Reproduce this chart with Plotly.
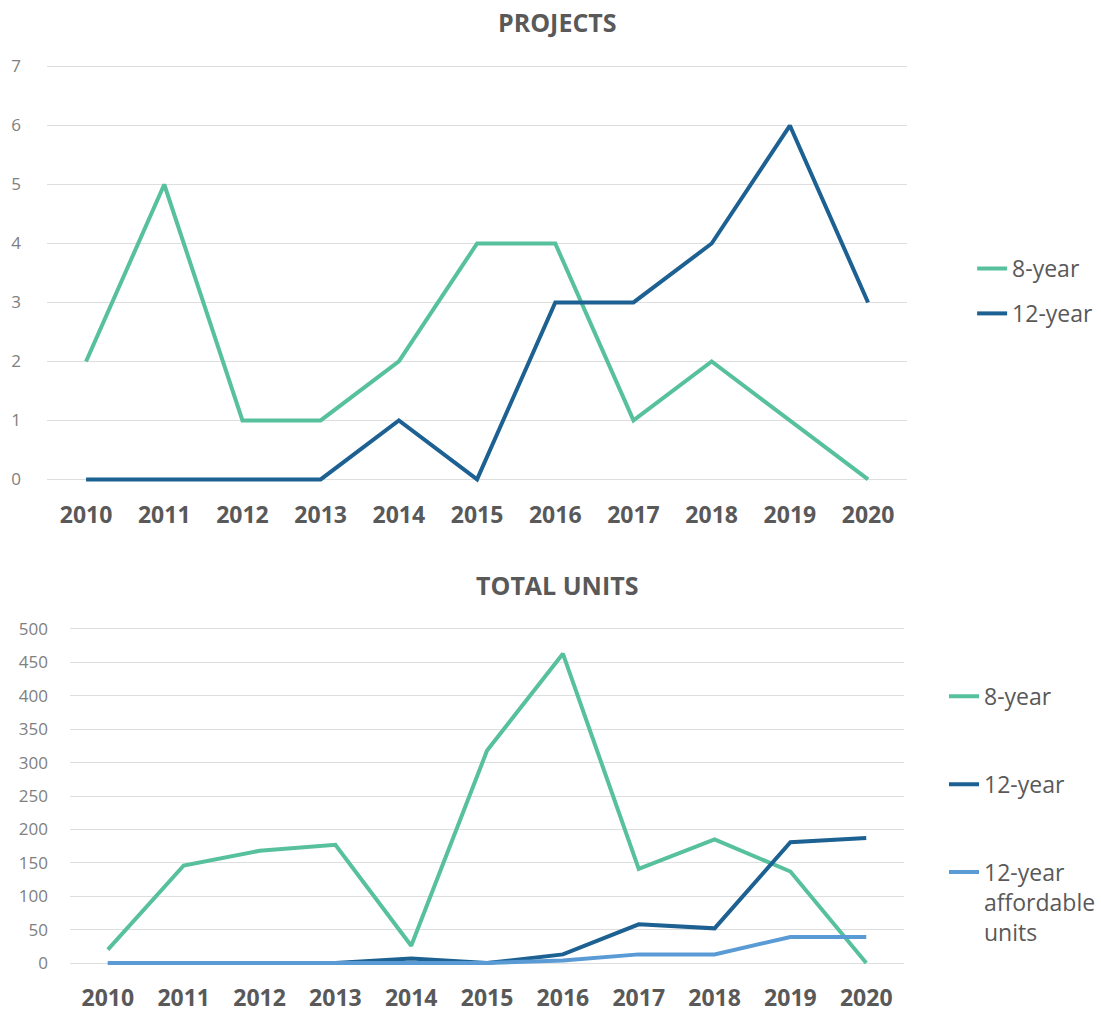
import plotly.graph_objects as go

years = ["2010", "2011", "2012", "2013", "2014", "2015", "2016", "2017", "2018", "2019", "2020"]

projects_8yr = [2, 5, 1, 1, 2, 4, 4, 1, 2, 1, 0]
projects_12yr = [0, 0, 0, 0, 1, 0, 3, 3, 4, 6, 3]

units_8yr = [20, 146, 168, 177, 26, 318, 463, 141, 185, 137, 0]
units_12yr = [0, 0, 0, 0, 7, 0, 13, 58, 52, 181, 187]
units_12yr_aff = [0, 0, 0, 0, 0, 0, 4, 13, 13, 39, 39]

W, H = 1101, 1013
GREEN = "#57c09c"
DARK = "#1c6192"
LIGHT = "#5b9bd5"
TXT = "#595959"
GRID = "#dedede"
FONT = "Open Sans"


def px_x(p):
    return p / W


def px_y(p):
    # compensate the vertical offset/scale observed in the rendered page
    q = (p - 9.3) / 0.979
    return 1 - q / H


fig = go.Figure()

fig.add_trace(go.Scatter(x=years, y=projects_8yr, mode="lines", name="8-year",
                         line=dict(color=GREEN, width=4), xaxis="x", yaxis="y",
                         legend="legend", legendgroup="a"))
fig.add_trace(go.Scatter(x=years, y=projects_12yr, mode="lines", name="12-year",
                         line=dict(color=DARK, width=4), xaxis="x", yaxis="y",
                         legend="legend", legendgroup="b"))

fig.add_trace(go.Scatter(x=years, y=units_8yr, mode="lines", name="8-year",
                         line=dict(color=GREEN, width=4), xaxis="x2", yaxis="y2",
                         legend="legend2", legendgroup="c"))
fig.add_trace(go.Scatter(x=years, y=units_12yr, mode="lines", name="12-year",
                         line=dict(color=DARK, width=4), xaxis="x2", yaxis="y2",
                         legend="legend2", legendgroup="d"))
fig.add_trace(go.Scatter(x=years, y=units_12yr_aff, mode="lines",
                         name="12-year<br>affordable<br>units",
                         line=dict(color=LIGHT, width=4), xaxis="x2", yaxis="y2",
                         legend="legend2", legendgroup="e"))

# top chart: 7 at y=67, 0 at y=481
pad1 = 0.06
ppu1 = (481 - 67) / 7
top_dom = [px_y(481 + pad1 * ppu1), px_y(67 - pad1 * ppu1)]
# bottom chart: 500 at y=631, 0 at y=966
pad2 = 5
ppu2 = (966 - 631) / 500
bot_dom = [px_y(966 + pad2 * ppu2), px_y(631 - pad2 * ppu2)]

xcommon = dict(type="category", range=[-0.5, 10.5], showgrid=False, zeroline=False,
               showline=False, ticks="",
               tickfont=dict(family=FONT, size=23, color=TXT, weight="bold"),
               ticklabelstandoff=16)
ycommon = dict(showgrid=True, gridcolor=GRID, gridwidth=1.3, zeroline=False, showline=False,
               ticks="", tickfont=dict(family=FONT, size=17, color="#808080"))

fig.update_layout(
    width=W, height=H, autosize=False,
    margin=dict(l=0, r=0, t=0, b=0),
    paper_bgcolor="white", plot_bgcolor="white",
    font=dict(family=FONT, color=TXT),
    xaxis=dict(domain=[px_x(47), px_x(908)], anchor="y", **xcommon),
    yaxis=dict(domain=top_dom, anchor="x", range=[-pad1, 7 + pad1], dtick=1, tick0=0,
               ticklabelstandoff=25, **ycommon),
    xaxis2=dict(domain=[px_x(70), px_x(905)], anchor="y2", **xcommon),
    yaxis2=dict(domain=bot_dom, anchor="x2", range=[-pad2, 500 + pad2], dtick=50, tick0=0,
                ticklabelstandoff=21, **ycommon),
    legend=dict(x=px_x(973), y=px_y(248), xanchor="left", yanchor="top",
                font=dict(family=FONT, size=23, color=TXT), tracegroupgap=12,
                bgcolor="rgba(0,0,0,0)", itemwidth=30),
    legend2=dict(x=px_x(945), y=px_y(677), xanchor="left", yanchor="top",
                 font=dict(family=FONT, size=23, color=TXT), tracegroupgap=55,
                 bgcolor="rgba(0,0,0,0)", valign="top", itemwidth=30),
    showlegend=True,
    annotations=[
        dict(text="<b>PROJECTS</b>", x=px_x(558), y=px_y(22), xref="paper", yref="paper",
             showarrow=False, xanchor="center", yanchor="middle",
             font=dict(family=FONT, size=25, color=TXT)),
        dict(text="<b>TOTAL UNITS</b>", x=px_x(558), y=px_y(587), xref="paper", yref="paper",
             showarrow=False, xanchor="center", yanchor="middle",
             font=dict(family=FONT, size=25, color=TXT)),
    ],
)

fig.write_html(
    "out.html",
    config={"displayModeBar": False},
    post_script="document.body.style.margin='0';document.body.style.overflow='hidden';",
)
